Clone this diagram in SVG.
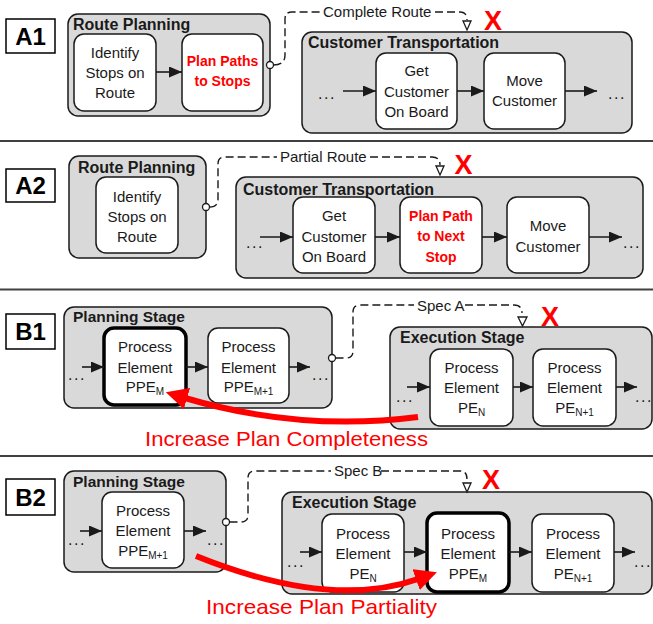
<svg xmlns="http://www.w3.org/2000/svg" width="653" height="624" viewBox="0 0 653 624">
<defs>
<style>
text{font-family:"Liberation Sans",Arial,sans-serif}
.c{fill:#d9d9d9;stroke:#1a1a1a;stroke-width:1.5}
.b{fill:#fff;stroke:#1a1a1a;stroke-width:1.5}
.bt{fill:#fff;stroke:#000;stroke-width:3.5}
.lb{fill:#fff;stroke:#000;stroke-width:1.5}
.t{font-size:15px;fill:#1a1a1a;text-anchor:middle}
.tr{font-size:14px;font-weight:bold;fill:#ff0000;text-anchor:middle}
.h{font-size:16px;font-weight:bold;fill:#1a1a1a}
.big{font-size:24px;font-weight:bold;fill:#000;text-anchor:middle}
.x{font-size:27px;font-weight:bold;fill:#ff0000;text-anchor:middle}
.dl{font-size:15px;fill:#1a1a1a}
.dots{font-size:16px;fill:#1a1a1a;letter-spacing:1.5px}
.sub{font-size:10px}
.red{font-size:21px;fill:#ff0000}
.d{fill:none;stroke:#1a1a1a;stroke-width:1.4;stroke-dasharray:8 4}
.a{stroke:#1a1a1a;stroke-width:1.6;marker-end:url(#ah)}
.ra{fill:none;stroke:#ff0000;stroke-width:6;marker-end:url(#rh)}
.cir{fill:#fff;stroke:#1a1a1a;stroke-width:1.3}
.tri{fill:#fff;stroke:#1a1a1a;stroke-width:1.3}
.sep{stroke:#404040;stroke-width:2}
</style>
<marker id="ah" markerUnits="userSpaceOnUse" markerWidth="13" markerHeight="11" refX="13" refY="5.5" orient="auto"><path d="M0,0 L13,5.5 L0,11 z" fill="#1a1a1a"/></marker>
<marker id="rh" markerUnits="userSpaceOnUse" markerWidth="24" markerHeight="22" refX="2" refY="11" orient="auto"><path d="M0,0 L22,11 L0,22 z" fill="#ff0000"/></marker>
</defs>
<rect width="653" height="624" fill="#fff"/>
<g id="separators">
<line class="sep" x1="0" y1="141" x2="653" y2="141"/>
<line class="sep" x1="0" y1="289.5" x2="653" y2="289.5"/>
<line class="sep" x1="0" y1="456" x2="653" y2="456"/>
</g>
<!-- A1 -->
<g id="label-A1"><rect class="lb" x="6" y="19" width="49" height="34"/><text class="big" x="30.5" y="45">A1</text></g>
<g id="A1-route-planning"><rect class="c" x="68" y="14" width="202" height="102" rx="10"/><text class="h" x="73" y="30">Route Planning</text></g>
<g id="A1-identify"><rect class="b" x="74" y="34" width="82" height="77" rx="10"/><text class="t" x="115" y="58">Identify</text><text class="t" x="115" y="78">Stops on</text><text class="t" x="115" y="98">Route</text></g>
<g id="A1-plan-paths"><rect class="b" x="182" y="34" width="81" height="77" rx="10"/><text class="tr" x="222.5" y="66">Plan Paths</text><text class="tr" x="222.5" y="86">to Stops</text></g>
<g id="A1-customer-transportation"><rect class="c" x="302" y="32" width="330" height="101" rx="10"/><text class="h" x="308" y="48">Customer Transportation</text></g>
<g id="A1-get-customer"><rect class="b" x="376" y="53" width="81" height="76" rx="10"/><text class="t" x="416.5" y="76">Get</text><text class="t" x="416.5" y="97">Customer</text><text class="t" x="416.5" y="117">On Board</text></g>
<g id="A1-move-customer"><rect class="b" x="484" y="53" width="81" height="76" rx="10"/><text class="t" x="524.5" y="86">Move</text><text class="t" x="524.5" y="106">Customer</text></g>
<text class="dots" x="318" y="99">...</text>
<text class="dots" x="608" y="99">...</text>
<text class="x" x="493" y="30">X</text>
<!-- A2 -->
<g id="label-A2"><rect class="lb" x="6" y="169" width="49" height="33"/><text class="big" x="30.5" y="194">A2</text></g>
<g id="A2-route-planning"><rect class="c" x="69" y="156" width="137" height="102" rx="10"/><text class="h" x="78" y="173">Route Planning</text></g>
<g id="A2-identify"><rect class="b" x="96" y="177" width="82" height="76" rx="10"/><text class="t" x="137" y="202">Identify</text><text class="t" x="137" y="222">Stops on</text><text class="t" x="137" y="242">Route</text></g>
<g id="A2-customer-transportation"><rect class="c" x="236" y="177" width="407" height="101" rx="10"/><text class="h" x="243" y="195">Customer Transportation</text></g>
<g id="A2-get-customer"><rect class="b" x="293" y="197" width="82" height="76" rx="10"/><text class="t" x="334" y="221">Get</text><text class="t" x="334" y="242">Customer</text><text class="t" x="334" y="262">On Board</text></g>
<g id="A2-plan-path"><rect class="b" x="400" y="197" width="82" height="76" rx="10"/><text class="tr" x="441" y="221">Plan Path</text><text class="tr" x="441" y="241">to Next</text><text class="tr" x="441" y="262">Stop</text></g>
<g id="A2-move-customer"><rect class="b" x="507" y="197" width="82" height="76" rx="10"/><text class="t" x="548" y="231">Move</text><text class="t" x="548" y="252">Customer</text></g>
<text class="dots" x="246" y="248">...</text>
<text class="dots" x="623" y="248">...</text>
<text class="x" x="463.5" y="174">X</text>
<!-- B1 -->
<g id="label-B1"><rect class="lb" x="6" y="314" width="49" height="35"/><text class="big" x="30.5" y="340">B1</text></g>
<g id="B1-planning-stage"><rect class="c" x="64" y="307" width="268" height="101" rx="10"/><text class="h" x="73" y="322" style="font-size:15.5px">Planning Stage</text></g>
<g id="B1-ppe-m"><rect class="bt" x="104" y="328" width="82" height="77" rx="10"/><text class="t" x="145" y="352">Process</text><text class="t" x="145" y="373">Element</text><text class="t" x="145" y="392">PPE<tspan class="sub" dy="3">M</tspan></text></g>
<g id="B1-ppe-m1"><rect class="b" x="208" y="328" width="81" height="75" rx="10"/><text class="t" x="248.5" y="352">Process</text><text class="t" x="248.5" y="373">Element</text><text class="t" x="248.5" y="392">PPE<tspan class="sub" dy="3">M+1</tspan></text></g>
<g id="B1-execution-stage"><rect class="c" x="390" y="327" width="262" height="102" rx="10"/><text class="h" x="400" y="343">Execution Stage</text></g>
<g id="B1-pe-n"><rect class="b" x="430" y="349" width="83" height="77" rx="10"/><text class="t" x="471.5" y="373">Process</text><text class="t" x="471.5" y="393">Element</text><text class="t" x="471.5" y="413">PE<tspan class="sub" dy="3">N</tspan></text></g>
<g id="B1-pe-n1"><rect class="b" x="533" y="349" width="83" height="77" rx="10"/><text class="t" x="574.5" y="373">Process</text><text class="t" x="574.5" y="393">Element</text><text class="t" x="574.5" y="413">PE<tspan class="sub" dy="3">N+1</tspan></text></g>
<text class="dots" x="68" y="380">...</text>
<text class="dots" x="312" y="380">...</text>
<text class="dots" x="396" y="402">...</text>
<text class="dots" x="635" y="402">...</text>
<text class="x" x="550" y="326">X</text>
<text class="red" x="145" y="446" textLength="283" lengthAdjust="spacingAndGlyphs">Increase Plan Completeness</text>
<!-- B2 -->
<g id="label-B2"><rect class="lb" x="6" y="479" width="49" height="36"/><text class="big" x="30.5" y="506">B2</text></g>
<g id="B2-planning-stage"><rect class="c" x="64" y="471" width="162" height="101" rx="10"/><text class="h" x="73" y="487" style="font-size:15.5px">Planning Stage</text></g>
<g id="B2-ppe-m1"><rect class="b" x="102" y="492" width="82" height="76" rx="10"/><text class="t" x="143" y="516">Process</text><text class="t" x="143" y="536">Element</text><text class="t" x="143" y="556">PPE<tspan class="sub" dy="3">M+1</tspan></text></g>
<g id="B2-execution-stage"><rect class="c" x="282" y="492" width="370" height="102" rx="10"/><text class="h" x="292" y="508">Execution Stage</text></g>
<g id="B2-pe-n"><rect class="b" x="322" y="514" width="82" height="78" rx="10"/><text class="t" x="363" y="539">Process</text><text class="t" x="363" y="559">Element</text><text class="t" x="363" y="579">PE<tspan class="sub" dy="3">N</tspan></text></g>
<g id="B2-ppe-m"><rect class="bt" x="427" y="513" width="82" height="79" rx="10"/><text class="t" x="468" y="539">Process</text><text class="t" x="468" y="559">Element</text><text class="t" x="468" y="579">PPE<tspan class="sub" dy="3">M</tspan></text></g>
<g id="B2-pe-n1"><rect class="b" x="532" y="514" width="82" height="78" rx="10"/><text class="t" x="573" y="539">Process</text><text class="t" x="573" y="559">Element</text><text class="t" x="573" y="579">PE<tspan class="sub" dy="3">N+1</tspan></text></g>
<text class="dots" x="68" y="545">...</text>
<text class="dots" x="207" y="545">...</text>
<text class="dots" x="287" y="567">...</text>
<text class="dots" x="634" y="567">...</text>
<text class="x" x="491" y="489">X</text>
<text class="red" x="206" y="614" textLength="231" lengthAdjust="spacingAndGlyphs">Increase Plan Partiality</text>
<g id="connectors">
<!-- A1 -->
<line class="a" x1="156" y1="72" x2="182" y2="72"/>
<line class="a" x1="343" y1="91" x2="376" y2="91"/>
<line class="a" x1="457" y1="91" x2="484" y2="91"/>
<line class="a" x1="565" y1="91" x2="597" y2="91"/>
<path class="d" d="M273.5 65 Q285 65 285 55 V19 Q285 12 292 12 H320"/>
<text class="dl" x="323" y="17">Complete Route</text>
<path class="d" d="M435 12 H460 Q467 12 467 20"/>
<polygon class="tri" points="463,21 471,21 467,30"/>
<circle class="cir" cx="270" cy="65" r="3.5"/>
<!-- A2 -->
<line class="a" x1="260" y1="237" x2="293" y2="237"/>
<line class="a" x1="375" y1="237" x2="400" y2="237"/>
<line class="a" x1="482" y1="237" x2="507" y2="237"/>
<line class="a" x1="589" y1="237" x2="622" y2="237"/>
<path class="d" d="M209.5 207 Q218 207 218 199 V164 Q218 157 225 157 H277"/>
<text class="dl" x="280" y="162">Partial Route</text>
<path class="d" d="M370 157 H432 Q440 157 440 165"/>
<polygon class="tri" points="436,166 444,166 440,175"/>
<circle class="cir" cx="206" cy="207" r="3.5"/>
<!-- B1 -->
<line class="a" x1="82" y1="367" x2="104" y2="367"/>
<line class="a" x1="186" y1="367" x2="208" y2="367"/>
<line class="a" x1="289" y1="367" x2="310" y2="367"/>
<line class="a" x1="407" y1="387" x2="430" y2="387"/>
<line class="a" x1="513" y1="387" x2="533" y2="387"/>
<line class="a" x1="616" y1="387" x2="637" y2="387"/>
<path class="d" d="M335.5 358 H346 Q353 358 353 351 V312 Q353 305 360 305 H414"/>
<text class="dl" x="417" y="311">Spec A</text>
<path class="d" d="M465 305 H514 Q522 305 522 313"/>
<polygon class="tri" points="518,317 527,317 522.5,326"/>
<circle class="cir" cx="332" cy="358" r="3.5"/>
<path class="ra" d="M418 417 Q300 432 185 398"/>
<!-- B2 -->
<line class="a" x1="80" y1="531" x2="102" y2="531"/>
<line class="a" x1="184" y1="531" x2="206" y2="531"/>
<line class="a" x1="300" y1="552" x2="322" y2="552"/>
<line class="a" x1="404" y1="552" x2="427" y2="552"/>
<line class="a" x1="509" y1="552" x2="532" y2="552"/>
<line class="a" x1="614" y1="552" x2="635" y2="552"/>
<path class="d" d="M229.5 522 H241 Q248 522 248 515 V478 Q248 471 255 471 H331"/>
<text class="dl" x="334" y="476">Spec B</text>
<path class="d" d="M381 471 H460 Q467 471 467 479"/>
<polygon class="tri" points="463,483 471,483 467,492"/>
<circle class="cir" cx="226" cy="522" r="3.5"/>
<path class="ra" d="M196 556 Q330 610 418 579"/>
</g>
</svg>
